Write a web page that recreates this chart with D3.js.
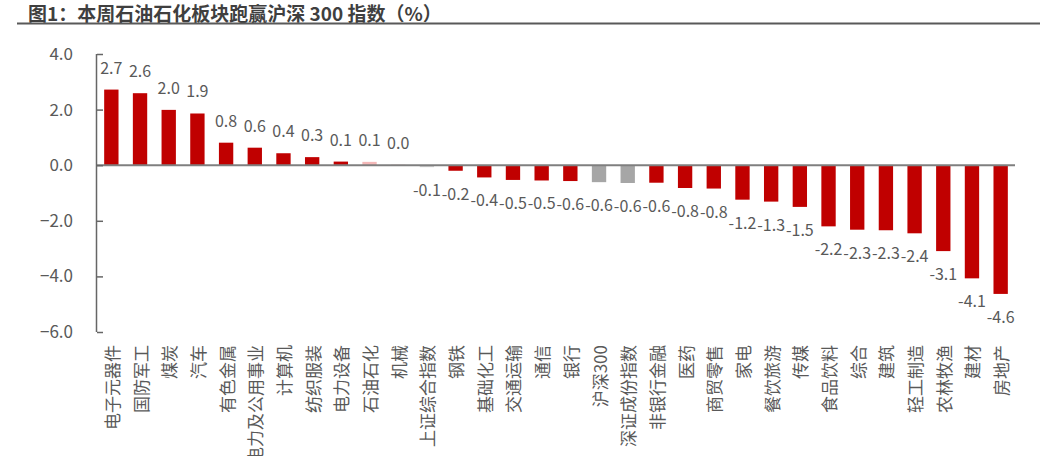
<!DOCTYPE html>
<html><head><meta charset="utf-8">
<script src="https://cdn.jsdelivr.net/npm/d3@7"></script>
<style>
html,body{margin:0;padding:0;background:#fff;}
svg{display:block;font-family:"Noto Sans CJK SC","Noto Sans",sans-serif;}
</style></head>
<body><svg id="chart" width="1057" height="456"></svg>
<script>
const categories = ["电子元器件","国防军工","煤炭","汽车","有色金属","电力及公用事业","计算机","纺织服装","电力设备","石油石化","机械","上证综合指数","钢铁","基础化工","交通运输","通信","银行","沪深300","深证成份指数","非银行金融","医药","商贸零售","家电","餐饮旅游","传媒","食品饮料","综合","建筑","轻工制造","农林牧渔","建材","房地产"];
const values = [2.72,2.59,1.99,1.86,0.81,0.63,0.43,0.29,0.13,0.12,0.01,-0.07,-0.2,-0.44,-0.53,-0.55,-0.57,-0.61,-0.64,-0.63,-0.82,-0.84,-1.24,-1.31,-1.5,-2.2,-2.32,-2.34,-2.45,-3.09,-4.07,-4.63];
const yTicks = [4,2,0,-2,-4,-6];
const titleText = "图1：本周石油石化板块跑赢沪深 300 指数（%）";
const greyCats = ["沪深300","深证成份指数"];
const lightGreyCats = ["上证综合指数"];
const pinkCats = ["石油石化"];

const svg = d3.select("#chart");
const x = d3.scaleBand().domain(categories).range([97, 1015]).paddingInner(0.5).paddingOuter(0.25);
const y = d3.scaleLinear().domain([-6, 4]).range([332, 54]);

// title
svg.append("text").attr("x", 28).attr("y", 20.5).attr("font-size", 19).attr("font-weight", "bold")
  .attr("fill", "#3f3f3f").text(titleText);
svg.append("line").attr("x1", 17).attr("x2", 1040).attr("y1", 23.5).attr("y2", 23.5)
  .attr("stroke", "#595959").attr("stroke-width", 2);

function color(c){
  if (greyCats.includes(c)) return "#a6a6a6";
  if (lightGreyCats.includes(c)) return "#d0d0d0";
  if (pinkCats.includes(c)) return "#f4b8b8";
  return "#c00000";
}

// bars
svg.append("g").selectAll("rect").data(categories).join("rect")
  .attr("x", (c) => x(c))
  .attr("width", x.bandwidth())
  .attr("y", (c, i) => y(Math.max(0, values[i])))
  .attr("height", (c, i) => Math.abs(y(values[i]) - y(0)))
  .attr("fill", color);

// zero line
svg.append("line").attr("x1", 97).attr("x2", 1015).attr("y1", y(0)).attr("y2", y(0))
  .attr("stroke", "#7f7f7f").attr("stroke-width", 2);

// y axis
const yAxis = d3.axisLeft(y).tickValues(yTicks).tickSize(-6).tickPadding(24).tickFormat(d3.format(".1f"));
const gy = svg.append("g").attr("transform", "translate(97,0)").call(yAxis);
gy.select(".domain").attr("stroke", "#666").attr("stroke-width", 1.5).attr("d", "M-0.5," + y(4) + "V" + y(-6) );
gy.selectAll(".tick line").attr("stroke", "#666").attr("stroke-width", 1.5);
gy.selectAll(".tick text").attr("font-size", 17).attr("fill", "#595959")
  .attr("font-family", "'Noto Sans CJK SC','Noto Sans',sans-serif");

// value labels
svg.append("g").selectAll("text").data(categories).join("text")
  .attr("x", (c) => x(c) + x.bandwidth() / 2)
  .attr("y", (c, i) => values[i] >= 0 ? y(values[i]) - 16 : y(values[i]) + 29)
  .attr("text-anchor", "middle").attr("font-size", 16).attr("fill", "#595959")
  .text((c, i) => { const v = Math.round(values[i] * 10) / 10; return (v === 0 ? 0 : v).toFixed(1); });

// x labels (rotated -90, reading bottom to top)
svg.append("g").selectAll("text").data(categories).join("text")
  .attr("transform", (c) => `translate(${x(c) + x.bandwidth() / 2},345) rotate(-90)`)
  .attr("text-anchor", "end").attr("dominant-baseline", "central")
  .attr("font-size", 17).attr("fill", "#595959")
  .text((c) => c);
</script></body></html>
